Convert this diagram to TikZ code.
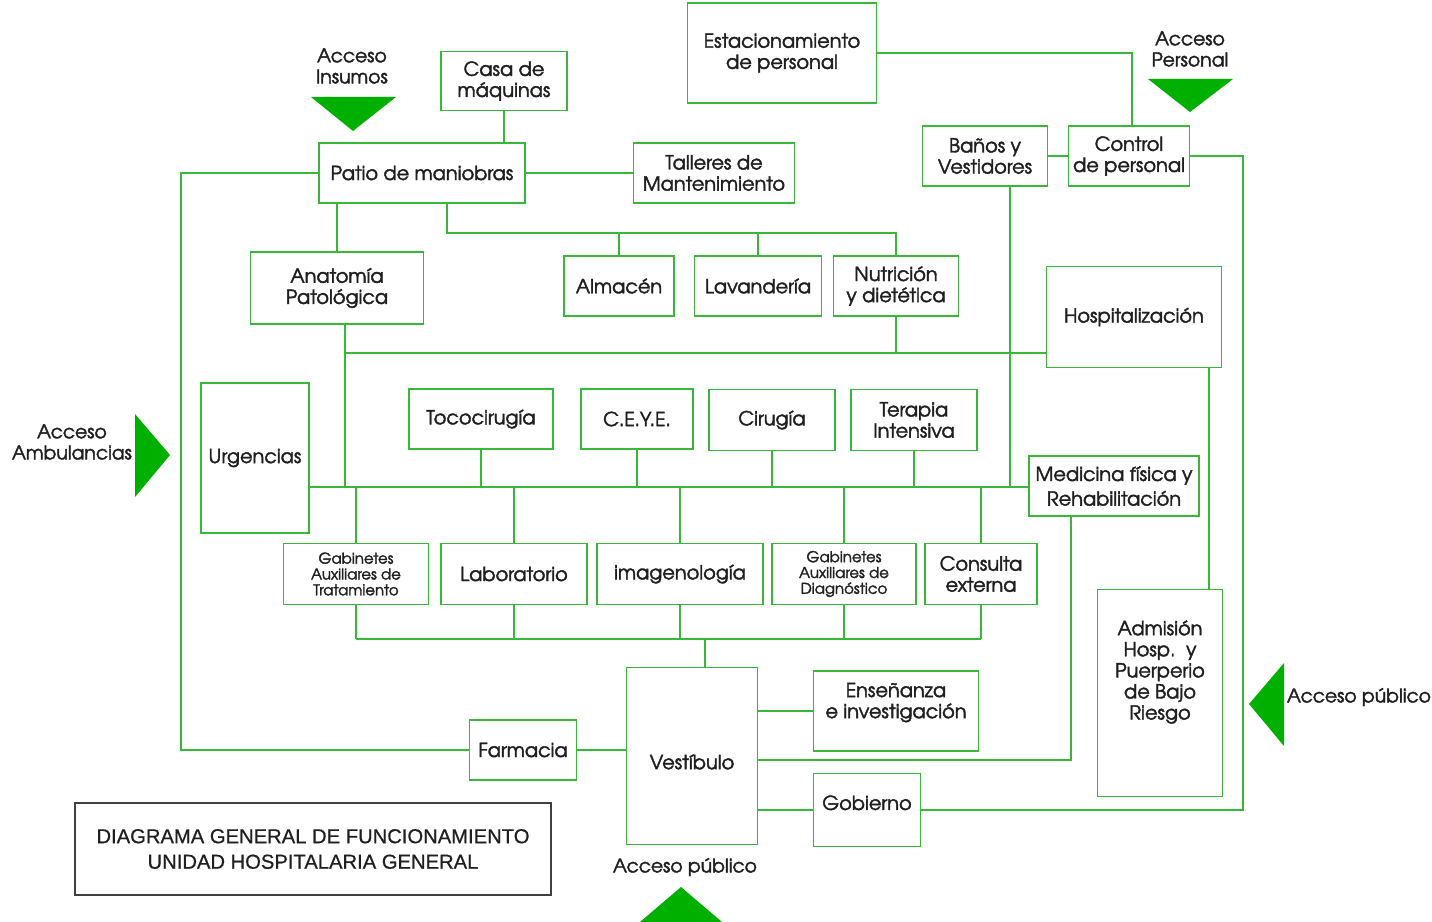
\documentclass[tikz,border=0pt]{standalone}
\usepackage{fontspec}
\setmainfont{TeX Gyre Adventor}
\newfontfamily\gordita{TeX Gyre Adventor}[FakeBold=2]
\newfontfamily\titlefont{Liberation Sans}[FakeBold=0.6]

\begin{document}
\begin{tikzpicture}[x=0.02cm,y=-0.02cm]
  % some colors
  \definecolor{linea}{RGB}{55,185,55}
  \definecolor{flecha}{RGB}{0,176,0}
  \colorlet{texto}{black!88}
  % some styles
  \tikzset{
    caja/.style 2 args={
      rectangle,
      draw=linea,
      line width=1.1pt,
      minimum width=#1*0.02cm,
      minimum height=#2*0.02cm,
      inner sep=0mm,
      align=center,
      text=texto,
      font=\gordita\fontsize{11}{12}\selectfont,
    },
    chica/.style={font=\gordita\fontsize{8.5}{9}\selectfont},
    acceso/.style={align=center, text=texto, inner sep=0mm, font=\gordita\fontsize{10.7}{12}\selectfont},
    enlace/.style={draw=linea, line width=1.1pt},
  }
  % page
  \fill[white] (0,0) rectangle (1432,922);
  \useasboundingbox (0,0) rectangle (1432,922);
  % bus lines
  \coordinate (busA) at (345,353);
  \coordinate (busB) at (0,487);
  \coordinate (busC) at (0,639);
  \coordinate (servicios) at (447,233);
  \coordinate (izq) at (181,173);
  \coordinate (der) at (1243,160);
  \coordinate (hosp-adm) at (1209,0);
  % upper row
  \node[caja={126}{59}] (casa) at (504,81) {Casa de\\máquinas};
  \node[caja={189}{100}] (estac) at (782,53) {Estacionamiento\\de personal};
  \node[caja={206}{60}] (patio) at (422,173) {Patio de maniobras};
  \node[caja={161}{60}] (talleres) at (714,173) {Talleres de\\Mantenimiento};
  \node[caja={125}{60}] (banos) at (985,156) {Baños y\\Vestidores};
  \node[caja={121}{60}] (control) at (1129,156) {Control\\de personal};
  \node[caja={173}{72}] (anatomia) at (337,288) {Anatomía\\Patológica};
  \node[caja={110}{60}] (almacen) at (619,286) {Almacén};
  \node[caja={127}{60}] (lavanderia) at (758,286) {Lavandería};
  \node[caja={125}{60}] (nutricion) at (896,286) {Nutrición\\y dietética};
  \node[caja={175}{101}] (hospital) at (1134,317) {Hospitalización};
  % middle row
  \node[caja={108}{150}] (urgencias) at (255,458) {Urgencias};
  \node[caja={144}{60}] (toco) at (481,419) {Tococirugía};
  \node[caja={112}{60}] (ceye) at (637,419) {C.E.Y.E.};
  \node[caja={126}{61}] (cirugia) at (772,420) {Cirugía};
  \node[caja={126}{61}] (terapia) at (914,420) {Terapia\\Intensiva};
  \node[caja={170}{60}] (medicina) at (1114,486) {Medicina física y\\[2pt]Rehabilitación};
  \node[caja={145}{61},chica] (gabtrat) at (356,574) {Gabinetes\\Auxiliares de\\Tratamiento};
  \node[caja={146}{61}] (lab) at (514,574) {Laboratorio};
  \node[caja={166}{61}] (imagen) at (680,574) {imagenología};
  \node[caja={144}{61},chica] (gabdiag) at (844,574) {Gabinetes\\Auxiliares de\\Diagnóstico};
  \node[caja={112}{61}] (consulta) at (981,574) {Consulta\\externa};
  % lower row
  \node[caja={125}{207}] (admision) at (1160,693) {Admisión\\Hosp.\ \ y\\Puerperio\\de Bajo\\Riesgo\\[0.5cm]\mbox{}};
  \node[caja={131}{177},text height=15pt,text depth=0pt] (vestibulo) at (692,756) {Vestíbulo};
  \node[caja={165}{80}] (ensenanza) at (896,711) {Enseñanza\\e investigación\\\mbox{}};
  \node[caja={107}{60}] (farmacia) at (523,750) {Farmacia};
  \node[caja={107}{73}] (gobierno) at (867,810) {Gobierno\\[-0.13cm]\mbox{}};
  \node[caja={476}{92},draw=black!75,line width=0.8pt,
        font=\titlefont\fontsize{11.5}{14.5}\selectfont] (titulo) at (313,849)
        {DIAGRAMA GENERAL DE FUNCIONAMIENTO\\UNIDAD HOSPITALARIA GENERAL};
  % accesses
  \node[acceso] (insumos) at (352,66) {Acceso\\Insumos};
  \fill[flecha] (311,97) -- (396,97) -- (353,131) -- cycle;
  \node[acceso] (personal) at (1190,49) {Acceso\\Personal};
  \fill[flecha] (1148,79) -- (1233,79) -- (1190,112) -- cycle;
  \node[acceso] (ambulancias) at (72,442) {Acceso\\Ambulancias};
  \fill[flecha] (135,414) -- (135,497) -- (170,455) -- cycle;
  \node[acceso] (publico-der) at (1359,697) {Acceso público};
  \fill[flecha] (1284,663) -- (1284,746) -- (1249,704) -- cycle;
  \node[acceso] (publico-abajo) at (685,867) {Acceso público};
  \fill[flecha] (640,922) -- (722,922) -- (681,887) -- cycle;
  % links of the service area
  \draw[enlace] (casa.south) -- (casa.south |- patio.north);
  \draw[enlace] (patio.east) -- (talleres.west);
  \draw[enlace] (patio.west) -- (izq) |- (farmacia.west);
  \draw[enlace] (anatomia.north) -- (anatomia.north |- patio.south);
  \draw[enlace] (servicios |- patio.south) -- (servicios) -| (nutricion.north);
  \foreach \n in {almacen,lavanderia} {
    \draw[enlace] (\n.north) -- (\n.north |- servicios);
  }
  % links of the staff area
  \draw[enlace] (estac.east) -| ([xshift=0.06cm]control.north);
  \draw[enlace] (banos.east) -- (control.west);
  \draw[enlace] (control.east) -- (control.east -| der) |- (gobierno.east);
  \draw[enlace] ([xshift=0.5cm]banos.south) -- ([xshift=0.5cm]banos.south |- busB);
  % bus A
  \draw[enlace] (busA |- anatomia.south) -- (busA |- busB);
  \draw[enlace] (busA) -- (busA -| hospital.west);
  \draw[enlace] (nutricion.south) -- (nutricion.south |- busA);
  \draw[enlace] (hosp-adm |- hospital.south) -- (hosp-adm |- admision.north);
  % bus B
  \draw[enlace] (urgencias.east |- busB) -- (medicina.west |- busB);
  \foreach \n in {toco,ceye,cirugia,terapia} {
    \draw[enlace] (\n.south) -- (\n.south |- busB);
  }
  \foreach \n in {gabtrat,lab,imagen,gabdiag,consulta} {
    \draw[enlace] (\n.north) -- (\n.north |- busB);
    \draw[enlace] (\n.south) -- (\n.south |- busC);
  }
  % bus C and the lobby
  \draw[enlace] (gabtrat.south |- busC) -- (consulta.south |- busC);
  \draw[enlace] ([xshift=0.26cm]vestibulo.north) -- ([xshift=0.26cm]vestibulo.north |- busC);
  \draw[enlace] ([xshift=0.86cm]medicina.south west) |- ([yshift=-0.08cm]vestibulo.east);
  \draw[enlace] (vestibulo.east |- ensenanza.west) -- (ensenanza.west);
  \draw[enlace] (vestibulo.east |- gobierno.west) -- (gobierno.west);
  \draw[enlace] (farmacia.east) -- (farmacia.east -| vestibulo.west);
\end{tikzpicture}
\end{document}
